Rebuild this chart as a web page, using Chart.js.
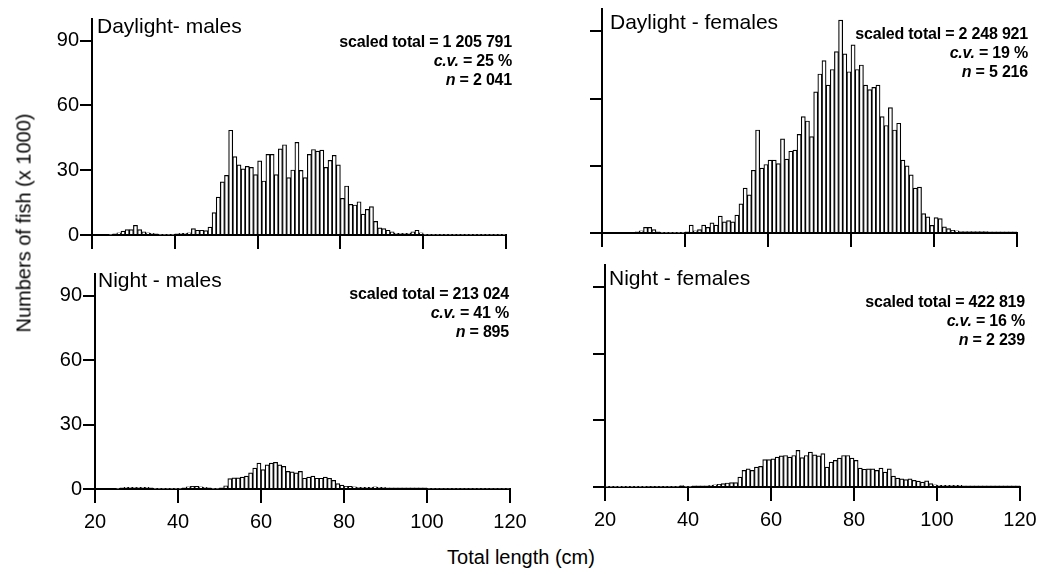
<!DOCTYPE html>
<html>
<head>
<meta charset="utf-8">
<script src="https://cdn.jsdelivr.net/npm/chart.js@4.4.1/dist/chart.umd.min.js"></script>
<style>
  html, body { margin: 0; padding: 0; background: #fff; }
  body { width: 1042px; height: 575px; position: relative; overflow: hidden;
         font-family: "Liberation Sans", Arial, sans-serif; color: #000; }
  canvas { position: absolute; }
  .lbl { position: absolute; font-size: 21px; line-height: 1; white-space: nowrap; }
  .stats { position: absolute; font-size: 16px; font-weight: bold; line-height: 19px;
           text-align: right; white-space: nowrap; letter-spacing: -0.2px; }
  .ytitle { position: absolute; left: 24px; top: 223px; font-size: 20px; white-space: nowrap;
            transform: translate(-50%, -50%) rotate(-90deg); }
  .xtitle { position: absolute; left: 521px; top: 547px; font-size: 20px; line-height: 1;
            white-space: nowrap; transform: translateX(-50%); }
</style>
</head>
<body>
<script>
// length classes (cm), lower edge of each 1 cm bin
var lengthBins = [
  20,21,22,23,24,25,26,27,28,29, 30,31,32,33,34,35,36,37,38,39,
  40,41,42,43,44,45,46,47,48,49, 50,51,52,53,54,55,56,57,58,59,
  60,61,62,63,64,65,66,67,68,69, 70,71,72,73,74,75,76,77,78,79,
  80,81,82,83,84,85,86,87,88,89, 90,91,92,93,94,95,96,97,98,99,
  100,101,102,103,104,105,106,107,108,109, 110,111,112,113,114,115,116,117,118,119
];

// numbers of fish (x 1000) per length class
var dayMales = [
  0, 0, 0, 0, 0.3, 0.5, 1, 1.8, 2.5, 2.5,
  4.5, 2.5, 1.5, 1, 0.8, 0.5, 0.3, 0.3, 0.3, 0.3,
  0.5, 0.8, 0.8, 1, 3, 2.2, 2.2, 2, 3.7, 10.4,
  17.5, 24.6, 27.6, 48.5, 36.3, 32.5, 30.6, 31.8, 31.3, 28,
  34.3, 25, 37.3, 37.3, 28, 39.9, 41.8, 26.6, 30.1, 42.9,
  29.9, 26.6, 37.3, 39.6, 38.8, 39.3, 31.3, 34.6, 36.9, 32.5,
  17, 22.7, 14.2, 13.9, 15.4, 9.7, 11.9, 13.1, 6.3, 3.3,
  3, 2.2, 1.5, 0.8, 0.8, 0.8, 0.8, 1.5, 2.2, 1,
  0.3, 0.3, 0.3, 0.3, 0.3, 0.3, 0.3, 0.3, 0.3, 0.3,
  0.3, 0.3, 0.3, 0.3, 0.3, 0.3, 0.3, 0.3, 0.3, 0.3
];
var dayFemales = [
  0, 0, 0, 0, 0, 0, 0, 0, 0.5, 1,
  2.5, 2.5, 1.5, 0.5, 0.3, 0.3, 0.3, 0.3, 0.3, 0.3,
  0.5, 3.5, 1, 1.5, 3.5, 2.5, 4.5, 3.5, 7.5, 5,
  5.5, 5, 8, 13, 20, 17, 28, 46, 29, 30.6,
  32.5, 32.5, 31, 42, 33, 36.5, 37, 44, 52, 50,
  43, 63, 71, 77, 66, 73, 81, 95, 80, 72,
  84, 73, 75, 66, 64, 65, 66, 52, 48, 56,
  46, 49, 32.5, 30, 26, 20, 20.5, 8.7, 7.2, 3.4,
  6.9, 6.4, 2.7, 2, 1.2, 1, 0.6, 0.6, 0.6, 0.6,
  0.6, 0.6, 0.6, 0.5, 0.5, 0.5, 0.5, 0.5, 0.5, 0.5
];
var nightMales = [
  0, 0, 0, 0, 0, 0.3, 0.5, 0.8, 0.8, 0.8,
  0.8, 0.8, 0.8, 0.5, 0.3, 0.3, 0.3, 0.3, 0.3, 0.3,
  0.3, 0.5, 1, 1.2, 1.2, 1, 0.8, 0.5, 0.3, 0.3,
  0.5, 1.5, 4.8, 5.2, 5.2, 5.5, 6, 7.5, 9.7, 12,
  9, 11.2, 12, 12.4, 11.2, 10.5, 8.2, 8, 7.5, 8.2,
  5, 5.5, 6, 5, 5, 5.5, 5, 4, 2.5, 1.8,
  1.3, 1.2, 1, 0.8, 0.8, 0.8, 0.8, 1, 0.8, 0.8,
  0.6, 0.6, 0.6, 0.6, 0.6, 0.6, 0.6, 0.6, 0.6, 0.6,
  0.4, 0.4, 0.4, 0.4, 0.4, 0.4, 0.4, 0.4, 0.4, 0.4,
  0.4, 0.4, 0.4, 0.4, 0.4, 0.4, 0.4, 0.4, 0.4, 0.4
];
var nightFemales = [
  0.2, 0.2, 0.2, 0.2, 0.2, 0.2, 0.2, 0.2, 0.2, 0.2,
  0.3, 0.3, 0.3, 0.3, 0.3, 0.3, 0.3, 0.3, 0.6, 0.3,
  0.3, 0.5, 0.5, 0.5, 0.5, 0.8, 1, 1.2, 1.5, 1.8,
  2, 2, 4.5, 7.5, 8.2, 7.5, 9, 9.3, 12.3, 12.3,
  12.7, 13.5, 14, 14.2, 13.5, 14.2, 16.5, 13.2, 14.2, 15.7,
  14.5, 14, 15, 9, 11.2, 12, 13, 14.2, 14.2, 13,
  12, 8.5, 8, 8.2, 8.2, 7.5, 8.5, 6.7, 8.2, 4.9,
  4, 3.7, 3.3, 3.7, 3, 2.7, 2.2, 2.8, 1.5, 1,
  0.8, 0.8, 0.8, 0.8, 0.8, 0.8, 0.5, 0.5, 0.5, 0.5,
  0.5, 0.5, 0.5, 0.5, 0.5, 0.5, 0.5, 0.5, 0.5, 0.5
];

var panelTitles = ['Daylight- males', 'Daylight - females', 'Night - males', 'Night - females'];
var scaledTotals = ['1 205 791', '2 248 921', '213 024', '422 819'];
var cvValues = ['25', '19', '41', '16'];
var nValues = ['2 041', '5 216', '895', '2 239'];
var xTicks = [20, 40, 60, 80, 100, 120];
var yTicks = [0, 30, 60, 90];

// plot-area placement: l/r = pixel of 20/120 cm, t/b = pixel of 100/0
var panels = [
  { series: dayMales,     l: 92,  r: 506,  t: 12,  b: 235,   yLab: true,  xLab: false,
    titlePos: [97, 15],  statsPos: [512, 32] },
  { series: dayFemales,   l: 602, r: 1017, t: 9,   b: 233,   yLab: false, xLab: false,
    titlePos: [610, 11], statsPos: [1028, 24] },
  { series: nightMales,   l: 95,  r: 510,  t: 267, b: 488.5, yLab: true,  xLab: true,
    titlePos: [98, 269], statsPos: [509, 284] },
  { series: nightFemales, l: 605, r: 1020, t: 265, b: 487,   yLab: false, xLab: true,
    titlePos: [609, 267], statsPos: [1025, 292] }
];

var Y_W = 60, X_H = 50, PAD_T = 6, PAD_R = 24;
var font = { family: '"Liberation Sans", Arial, sans-serif', size: 20 };

panels.forEach(function (p, i) {
    var c = document.createElement('canvas');
    var w = Y_W + (p.r - p.l) + PAD_R;
    var h = PAD_T + (p.b - p.t) + X_H;
    c.width = Math.round(w);
    c.height = Math.round(h);
    c.style.left = (p.l - Y_W) + 'px';
    c.style.top = (p.t - PAD_T) + 'px';
    document.body.appendChild(c);

    var points = lengthBins.map(function (cm, k) { return { x: cm + 0.5, y: p.series[k] }; });

    new Chart(c, {
        type: 'bar',
        data: {
            datasets: [{
                data: points,
                backgroundColor: '#ffffff',
                borderColor: '#000000',
                borderWidth: 1.2,
                barPercentage: 1,
                categoryPercentage: 1
            }]
        },
        options: {
            responsive: false,
            animation: false,
            devicePixelRatio: 1,
            layout: { padding: { top: PAD_T, right: PAD_R, left: 0, bottom: 0 } },
            plugins: { legend: { display: false }, tooltip: { enabled: false } },
            scales: {
                x: {
                    type: 'linear', min: 20, max: 120, offset: false,
                    afterBuildTicks: function (s) { s.ticks = xTicks.map(function (v) { return { value: v }; }); },
                    afterFit: function (s) { s.height = X_H; },
                    ticks: { display: p.xLab, color: '#000', font: font, padding: 7, maxRotation: 0 },
                    grid: { offset: false, drawOnChartArea: false, drawTicks: true, tickLength: 14, color: '#000', lineWidth: 2 },
                    border: { display: true, color: '#000', width: 2 }
                },
                y: {
                    min: 0, max: 100,
                    afterBuildTicks: function (s) { s.ticks = yTicks.map(function (v) { return { value: v }; }); },
                    afterFit: function (s) { s.width = Y_W; },
                    ticks: { display: p.yLab, color: '#000', font: font, padding: 1 },
                    grid: { drawOnChartArea: false, drawTicks: true, tickLength: 12, color: '#000', lineWidth: 2 },
                    border: { display: true, color: '#000', width: 2 }
                }
            }
        }
    });

    var t = document.createElement('div');
    t.className = 'lbl';
    t.style.left = p.titlePos[0] + 'px';
    t.style.top = p.titlePos[1] + 'px';
    t.textContent = panelTitles[i];
    document.body.appendChild(t);

    var s = document.createElement('div');
    s.className = 'stats';
    s.style.right = (1042 - p.statsPos[0]) + 'px';
    s.style.top = p.statsPos[1] + 'px';
    s.innerHTML = 'scaled total = ' + scaledTotals[i] + '<br><i>c.v.</i> = ' + cvValues[i] +
        ' %<br><i>n</i> = ' + nValues[i];
    document.body.appendChild(s);
});
</script>
<div class="ytitle">Numbers of fish (x 1000)</div>
<div class="xtitle">Total length (cm)</div>
</body>
</html>
